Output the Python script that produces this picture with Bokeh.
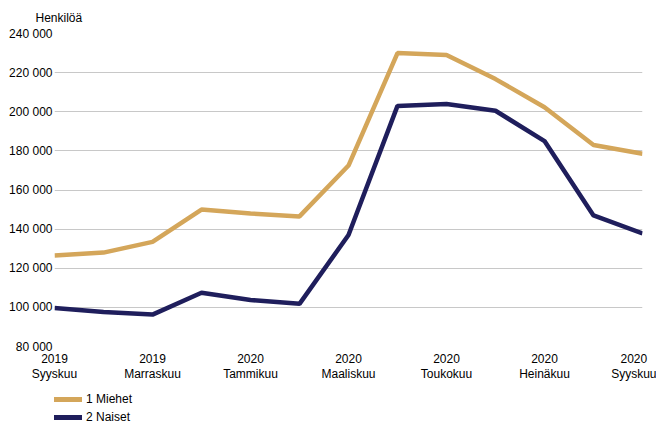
from bokeh.plotting import figure
from bokeh.layouts import column
from bokeh.models import ColumnDataSource, Legend, LegendItem, FixedTicker, CustomJSTickFormatter
from bokeh.embed import file_html
from bokeh.resources import INLINE

months = ["2019 Syyskuu", "2019 Lokakuu", "2019 Marraskuu", "2019 Joulukuu", "2020 Tammikuu",
          "2020 Helmikuu", "2020 Maaliskuu", "2020 Huhtikuu", "2020 Toukokuu", "2020 Kesäkuu",
          "2020 Heinäkuu", "2020 Elokuu", "2020 Syyskuu"]
miehet = [126500, 128000, 133500, 150000, 148000, 146500, 172500, 230000, 229000, 216700, 202300, 183000, 178500]
naiset = [99700, 97600, 96300, 107500, 103800, 101800, 137000, 203000, 204000, 200500, 185000, 147000, 137800]
y_ticks = [80000, 100000, 120000, 140000, 160000, 180000, 200000, 220000, 240000]
series_names = ["1 Miehet", "2 Naiset"]
colors = ["#D4A65A", "#1F1E5C"]

FONT = "Liberation Sans"
FS = "12px"
x = list(range(len(months)))
src = ColumnDataSource(dict(x=x, miehet=miehet, naiset=naiset))

p = figure(width=656, height=384, output_backend="svg", toolbar_location=None,
           x_range=(0, len(months) - 1), y_range=(80000, 240000),
           min_border_left=54, min_border_right=14, min_border_top=32, min_border_bottom=36)
p.outline_line_color = None
p.background_fill_color = "white"
p.border_fill_color = "white"

p.title.text = "Henkilöä"
p.title.align = "left"
p.title.offset = -19
p.title.text_font = FONT
p.title.text_font_size = FS
p.title.text_font_style = "normal"
p.title.text_color = "#000000"
p.title.standoff = 17

p.line("x", "miehet", source=src, line_color=colors[0], line_width=4.5)
p.line("x", "naiset", source=src, line_color=colors[1], line_width=4.5)

p.xgrid.grid_line_color = None
p.ygrid.grid_line_color = "#C8C8C8"
p.ygrid.grid_line_width = 1.2
p.ygrid.ticker = FixedTicker(ticks=y_ticks)

for ax in (p.xaxis, p.yaxis):
    ax.axis_line_color = None
    ax.major_tick_line_color = None
    ax.minor_tick_line_color = None
    ax.major_tick_out = 0
    ax.major_tick_in = 0
    ax.minor_tick_out = 0
    ax.major_label_text_font = FONT
    ax.major_label_text_font_size = FS
    ax.major_label_text_color = "#000000"

p.yaxis.ticker = FixedTicker(ticks=y_ticks)
p.yaxis.formatter = CustomJSTickFormatter(code="return tick.toFixed(0).replace(/\\B(?=(\\d{3})+(?!\\d))/g, ' ');")
p.yaxis.major_label_standoff = 2

xt = list(range(0, len(months), 2))
p.xaxis.ticker = FixedTicker(ticks=xt)
p.xaxis.major_label_overrides = {i: months[i].replace(" ", "\n") for i in xt}
p.xaxis.major_label_standoff = 5
p.xaxis.major_label_text_line_height = 1.12

# legend strip
lg = figure(width=656, height=41, output_backend="svg", toolbar_location=None,
            x_range=(0, 1), y_range=(0, 1), min_border_left=54, min_border_right=14,
            min_border_top=0, min_border_bottom=0)
lg.xaxis.visible = False
lg.yaxis.visible = False
lg.grid.visible = False
lg.outline_line_color = None
nan = float("nan")
rs = [lg.line(x=[nan, nan], y=[nan, nan], line_color=c, line_width=5, line_cap="round") for c in colors]
legend = Legend(items=[LegendItem(label=n, renderers=[r]) for n, r in zip(series_names, rs)],
                location=(0, 0), orientation="vertical", margin=0, padding=0,
                spacing=2, glyph_width=28, glyph_height=16, label_standoff=4,
                label_text_font=FONT, label_text_font_size=FS, label_text_color="#000000",
                label_height=16, border_line_color=None, background_fill_alpha=0)
lg.add_layout(legend)

layout = column(p, lg, spacing=0)
open("out.html", "w").write(file_html(layout, INLINE))
